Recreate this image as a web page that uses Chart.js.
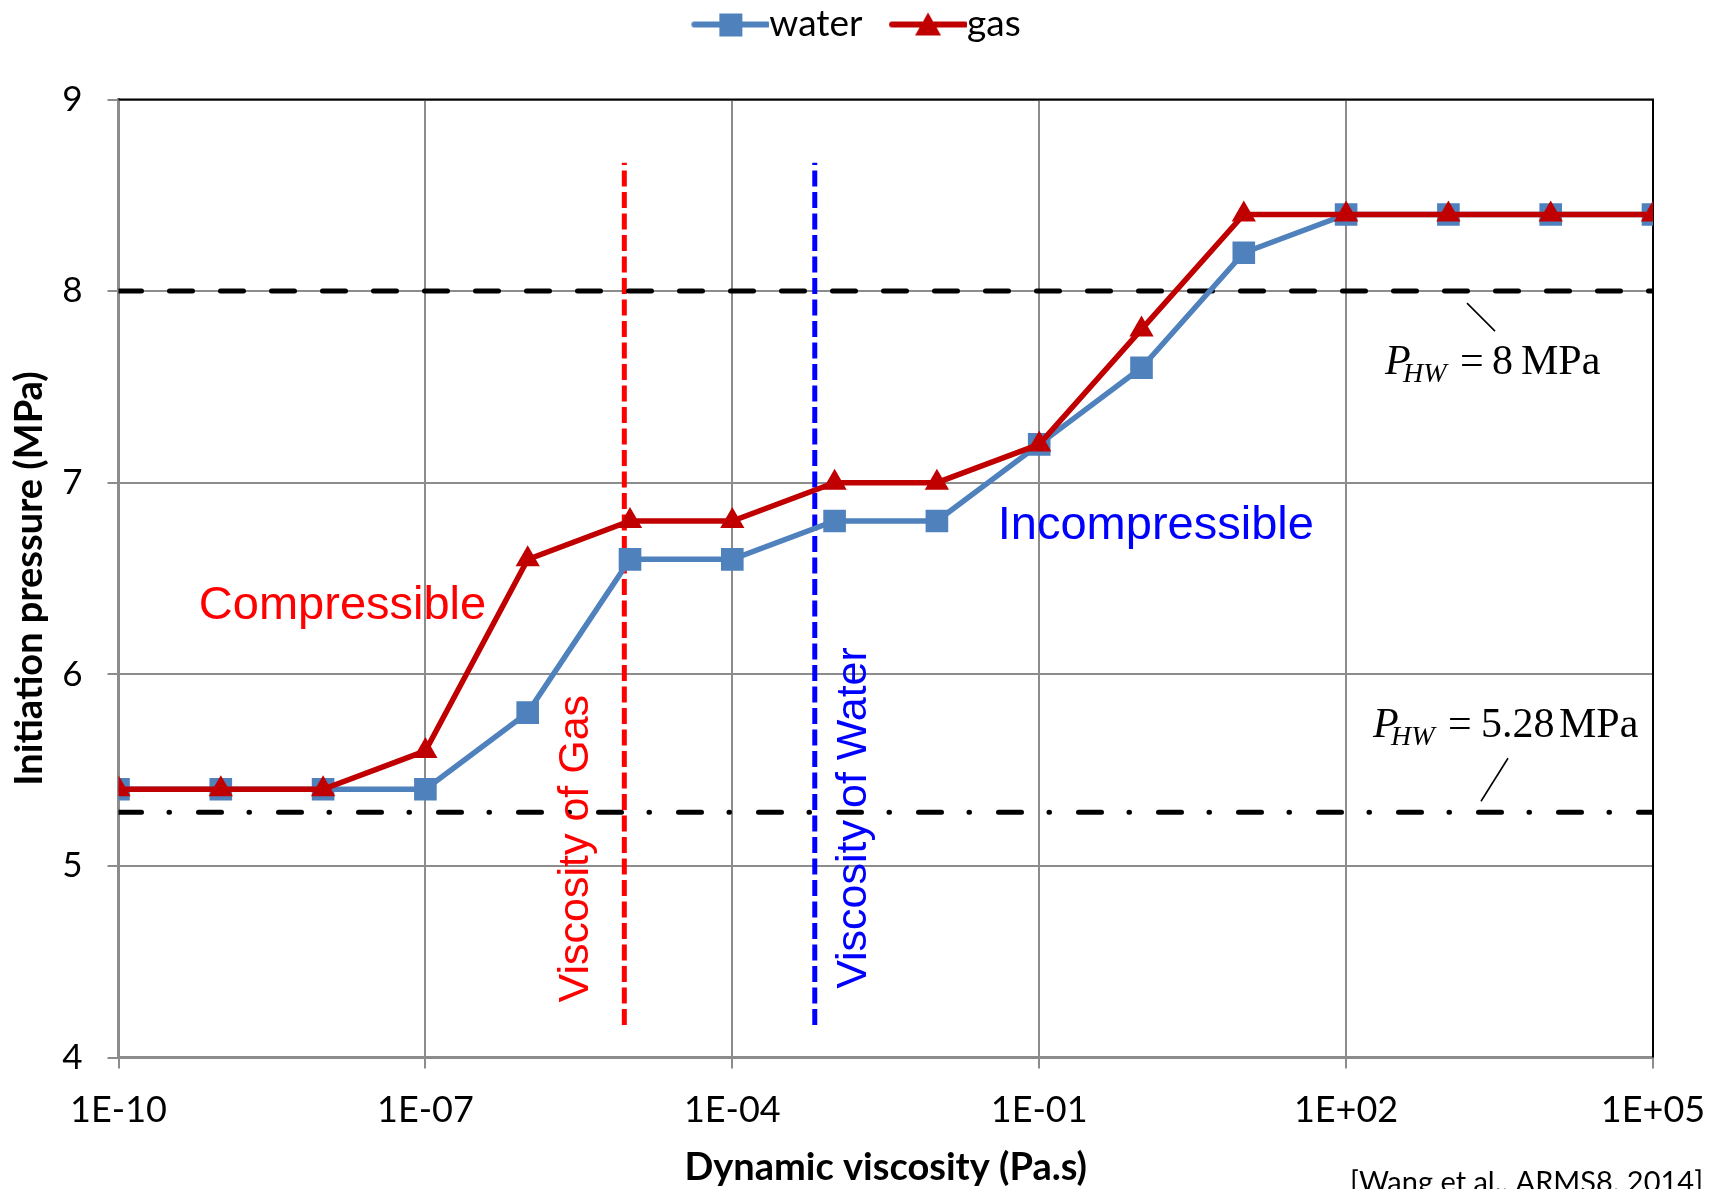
<!DOCTYPE html>
<html>
<head>
<meta charset="utf-8">
<title>Initiation pressure vs dynamic viscosity</title>
<script src="https://cdn.jsdelivr.net/npm/chart.js@4.4.1/dist/chart.umd.min.js"></script>
<style>
  html, body { margin: 0; padding: 0; background: #fff; }
</style>
</head>
<body>
<canvas id="chart" width="1720" height="1189"></canvas>
<script>
// Data (x = Pa.s, y = MPa)
const viscosity = [1e-10, 1e-9, 1e-8, 1e-7, 1e-6, 1e-5, 1e-4, 1e-3, 1e-2, 1e-1, 1e0, 1e1, 1e2, 1e3, 1e4, 1e5];
const waterPressure = [5.4, 5.4, 5.4, 5.4, 5.8, 6.6, 6.6, 6.8, 6.8, 7.2, 7.6, 8.2, 8.4, 8.4, 8.4, 8.4];
const gasPressure = [5.4, 5.4, 5.4, 5.6, 6.6, 6.8, 6.8, 7.0, 7.0, 7.2, 7.8, 8.4, 8.4, 8.4, 8.4, 8.4];

const xTickValues = [1e-10, 1e-7, 1e-4, 1e-1, 1e2, 1e5];
const xTickLabels = ['1E-10', '1E-07', '1E-04', '1E-01', '1E+02', '1E+05'];
const yTicks = [4, 5, 6, 7, 8, 9];

// reference lines
const hwHigh = 8;
const hwLow = 5.28;
const gasViscosity = 8.8e-6;
const waterViscosity = 6.4e-4;
const markerSpan = [4.17, 8.67];

const xMin = xTickValues[0], xMax = xTickValues[xTickValues.length - 1];

const pts = (xs, ys) => xs.map((v, i) => ({ x: v, y: ys[i] }));

// legend icon: line with marker, drawn on a small canvas
function legendIcon(color, shape) {
  const c = document.createElement('canvas');
  c.width = 117; c.height = 30;
  const g = c.getContext('2d');
  g.strokeStyle = color; g.fillStyle = color;
  g.lineWidth = 6; g.lineCap = 'round';
  g.beginPath(); g.moveTo(42, 15); g.lineTo(115, 15); g.stroke();
  if (shape === 'rect') {
    g.fillRect(67, 4, 23, 23);
  } else {
    g.beginPath(); g.moveTo(78, 3); g.lineTo(91, 26); g.lineTo(65, 26); g.closePath(); g.fill();
  }
  return c;
}
const legendIcons = [legendIcon('#4F81BD', 'rect'), legendIcon('#C00000', 'triangle')];

// add room between legend and plot
const legendGap = {
  id: 'legendGap',
  beforeLayout(chart) {
    const lg = chart.legend;
    if (lg && !lg._gapPatched) {
      const fit = lg.fit;
      lg.fit = function () { fit.call(this); this.height += 46.5; };
      lg._gapPatched = true;
    }
  }
};

// black top + right border of the plot
const frame = {
  id: 'frame',
  beforeDatasetsDraw(chart) {
    const { ctx, chartArea: a } = chart;
    ctx.save();
    ctx.strokeStyle = '#000';
    ctx.lineWidth = 2;
    ctx.beginPath();
    ctx.moveTo(a.left, a.top);
    ctx.lineTo(a.right, a.top);
    ctx.lineTo(a.right, a.bottom);
    ctx.stroke();
    ctx.restore();
  }
};

// text annotations
const notes = {
  id: 'notes',
  afterDatasetsDraw(chart) {
    const { ctx, chartArea: a } = chart;
    const x = chart.scales.x, y = chart.scales.y;
    ctx.save();
    ctx.textAlign = 'center';
    ctx.textBaseline = 'middle';

    ctx.font = '47px "Liberation Sans", Arial';
    ctx.fillStyle = '#FF0000';
    ctx.fillText('Compressible', x.getPixelForValue(Math.pow(10, -7.81)), y.getPixelForValue(6.354));
    ctx.fillStyle = '#0000FF';
    ctx.fillText('Incompressible', x.getPixelForValue(Math.pow(10, 0.14)), y.getPixelForValue(6.772));

    ctx.font = '43px "Liberation Sans", Arial';
    ctx.save();
    ctx.translate(x.getPixelForValue(Math.pow(10, -5.53)), y.getPixelForValue(5.09));
    ctx.rotate(-Math.PI / 2);
    ctx.fillStyle = '#FF0000';
    ctx.fillText('Viscosity of Gas', 0, 0);
    ctx.restore();
    ctx.save();
    ctx.translate(x.getPixelForValue(Math.pow(10, -2.81)), y.getPixelForValue(5.25));
    ctx.rotate(-Math.PI / 2);
    ctx.fillStyle = '#0000FF';
    ctx.fillText('Viscosity of Water', 0, 0);
    ctx.restore();

    // P_HW labels with leader lines
    ctx.fillStyle = '#000';
    ctx.strokeStyle = '#000';
    ctx.lineWidth = 1.6;
    ctx.textAlign = 'left';
    ctx.textBaseline = 'alphabetic';
    const phw = (px, base, value, valueDx, unitDx) => {
      ctx.font = 'italic 42px "Liberation Serif", "Times New Roman"';
      ctx.fillText('P', px, base);
      ctx.font = 'italic 28px "Liberation Serif", "Times New Roman"';
      ctx.fillText('HW', px + 18, base + 8);
      ctx.font = '42px "Liberation Serif", "Times New Roman"';
      ctx.fillText('=', px + 75, base);
      ctx.fillText(value, px + valueDx, base);
      ctx.fillText('MPa', px + unitDx, base);
    };
    const yHigh = y.getPixelForValue(hwHigh);
    phw(a.right - 268, yHigh + 83, '8', 107, 136);
    ctx.beginPath();
    ctx.moveTo(a.right - 186, yHigh + 12);
    ctx.lineTo(a.right - 158, yHigh + 40);
    ctx.stroke();

    const yLow = y.getPixelForValue(hwLow);
    phw(a.right - 280, yLow - 75, '5.28', 108, 186);
    ctx.beginPath();
    ctx.moveTo(a.right - 145, yLow - 54);
    ctx.lineTo(a.right - 172, yLow - 11);
    ctx.stroke();

    // citation, clipped at the bottom edge
    ctx.font = '29px Lato';
    ctx.textAlign = 'right';
    ctx.fillText('[Wang et al., ARMS8, 2014]', 1703, 1192);
    ctx.restore();
  }
};

const ctx = document.getElementById('chart').getContext('2d');
new Chart(ctx, {
  type: 'line',
  data: {
    datasets: [
      {
        label: 'water',
        data: pts(viscosity, waterPressure),
        borderColor: '#4F81BD',
        backgroundColor: '#4F81BD',
        borderWidth: 5.5,
        pointStyle: 'rect',
        pointRadius: 16,
        pointBorderWidth: 0,
        order: 1
      },
      {
        label: 'gas',
        data: pts(viscosity, gasPressure),
        borderColor: '#C00000',
        backgroundColor: '#C00000',
        borderWidth: 5.5,
        pointStyle: 'triangle',
        pointRadius: 14,
        pointBorderWidth: 0,
        order: 0
      },
      {
        label: 'hwHigh',
        data: pts([xMin, xMax], [hwHigh, hwHigh]),
        borderColor: '#000',
        borderWidth: 5,
        borderDash: [23, 28],
        borderCapStyle: 'round',
        pointRadius: 0,
        order: 2
      },
      {
        label: 'hwLow',
        data: pts([xMin, xMax], [hwLow, hwLow]),
        borderColor: '#000',
        borderWidth: 5,
        borderDash: [23, 27.5, 0.5, 29],
        borderCapStyle: 'round',
        pointRadius: 0,
        order: 2
      },
      {
        label: 'gasViscosity',
        data: pts([gasViscosity, gasViscosity], markerSpan),
        borderColor: '#FF0000',
        borderWidth: 5,
        borderDash: [16, 5.5],
        pointRadius: 0,
        order: 2
      },
      {
        label: 'waterViscosity',
        data: pts([waterViscosity, waterViscosity], markerSpan),
        borderColor: '#0000FF',
        borderWidth: 5,
        borderDash: [16, 5.5],
        pointRadius: 0,
        order: 2
      }
    ]
  },
  options: {
    responsive: false,
    animation: false,
    layout: { padding: { right: 28.5 } },
    plugins: {
      tooltip: { enabled: false },
      legend: {
        position: 'top',
        labels: {
          usePointStyle: true,
          pointStyleWidth: 80,
          boxHeight: 30,
          padding: 6,
          color: '#000',
          font: { family: 'Lato', size: 37 },
          filter: item => item.datasetIndex < 2,
          sort: (a, b) => a.datasetIndex - b.datasetIndex,
          generateLabels(chart) {
            const items = Chart.defaults.plugins.legend.labels.generateLabels(chart);
            items.forEach(it => { if (it.datasetIndex < 2) it.pointStyle = legendIcons[it.datasetIndex]; });
            return items;
          }
        }
      }
    },
    scales: {
      x: {
        type: 'logarithmic',
        min: xMin,
        max: xMax,
        afterBuildTicks(scale) {
          scale.ticks = xTickValues.map(v => ({ value: v }));
        },
        afterFit(scale) { scale.height = 131.5; },
        ticks: {
          autoSkip: false,
          maxRotation: 0,
          padding: 14.6,
          color: '#000',
          font: { family: 'Lato', size: 36, lineHeight: 1.5 },
          callback: (value, i) => xTickLabels[i]
        },
        grid: { color: '#8c8c8c', lineWidth: 2, tickLength: 11 },
        border: { color: '#8c8c8c', width: 3 },
        title: {
          display: true,
          text: 'Dynamic viscosity (Pa.s)',
          color: '#000',
          font: { family: 'Lato', size: 38, weight: 'bold', lineHeight: 1.1 },
          padding: { top: 0, bottom: 0 }
        }
      },
      y: {
        type: 'linear',
        min: yTicks[0],
        max: yTicks[yTicks.length - 1],
        afterFit(scale) { scale.width = 118.5; },
        ticks: {
          stepSize: 1,
          padding: 25,
          color: '#000',
          font: { family: 'Lato', size: 35 }
        },
        grid: { color: '#8c8c8c', lineWidth: 2, tickLength: 11 },
        border: { color: '#8c8c8c', width: 3 },
        title: {
          display: true,
          text: 'Initiation pressure (MPa)',
          color: '#000',
          font: { family: 'Lato', size: 38, weight: 'bold' },
          padding: { top: 7, bottom: 0 }
        }
      },
      yRight: {
        position: 'right',
        display: true,
        grid: { display: false, drawTicks: false },
        border: { display: false },
        ticks: { display: false },
        afterFit(scale) { scale.width = 38.5; }
      }
    }
  },
  plugins: [legendGap, frame, notes]
});
</script>
</body>
</html>
